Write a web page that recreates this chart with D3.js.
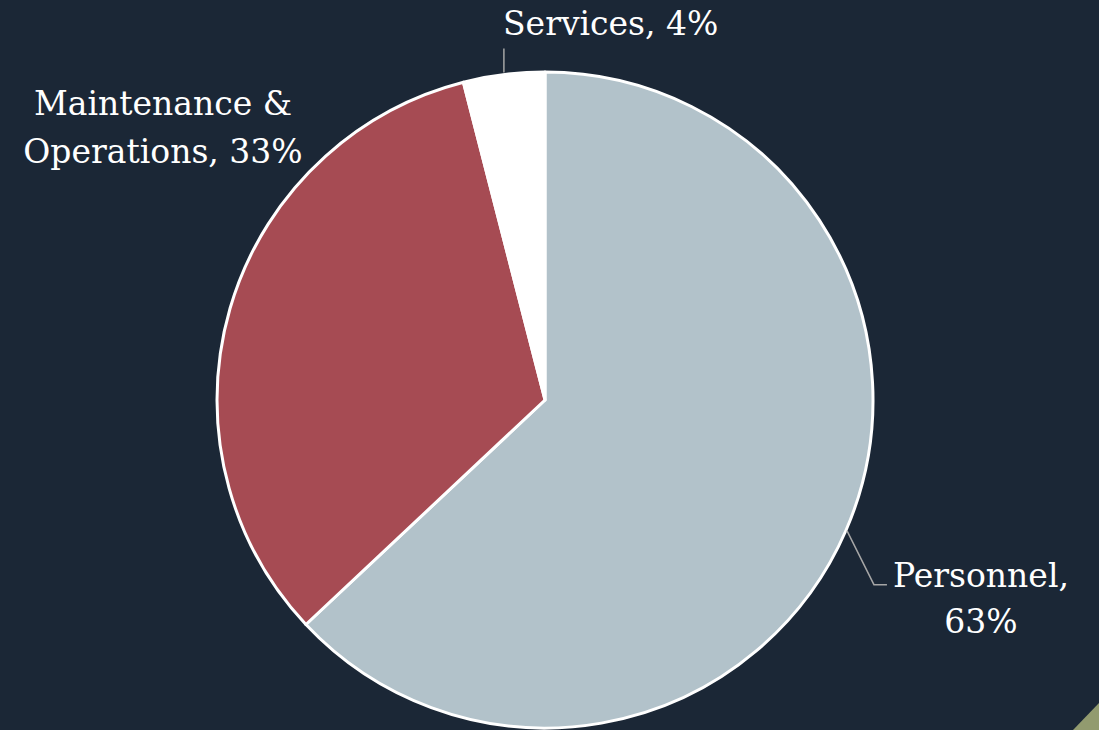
<!DOCTYPE html>
<html>
<head>
<meta charset="utf-8">
<script src="https://cdn.jsdelivr.net/npm/d3@7"></script>
<style>
  html, body { margin: 0; padding: 0; background: #1b2736; }
  svg { display: block; }
  .lbl { font-family: "DejaVu Serif", serif; font-size: 33px; fill: #ffffff; }
</style>
</head>
<body>
<svg id="chart" width="1099" height="730"></svg>
<script>
// slice order follows the picture: clockwise from 12 o'clock
const categories = ['Personnel', 'Maintenance & Operations', 'Services']
const values = [63, 33, 4]
const colors = ['#b2c2ca', '#a64b53', '#ffffff']

const width = 1099, height = 730
const cx = 545, cy = 400, radius = 328

let svg = d3.select('#chart')
svg.append('rect').attr('width', width).attr('height', height).attr('fill', '#1b2736')

// corner decoration
svg.append('path')
  .attr('d', 'M1073,730 L1099,703 L1099,730 Z')
  .attr('fill', '#929b6f')

let pie = d3.pie().sort(null).value(d => d)
let arc = d3.arc().innerRadius(0).outerRadius(radius)
let arcs = pie(values)

let g = svg.append('g').attr('transform', `translate(${cx},${cy})`)

g.selectAll('path')
  .data(arcs)
  .enter().append('path')
    .attr('d', arc)
    .attr('fill', (d, i) => colors[i])
    .attr('stroke', '#ffffff')
    .attr('stroke-width', 3)
    .attr('stroke-linejoin', 'round')

// point on the rim at a given angle (d3 angle, 0 = top)
function rim(a, r) {
  return [Math.sin(a) * r, -Math.cos(a) * r]
}
let mid = d => (d.startAngle + d.endAngle) / 2

// leader lines
let lead = g.append('g').attr('fill', 'none').attr('stroke', '#a6a6a6').attr('stroke-width', 1.5)

// Personnel: from rim down-right then short horizontal
let pP = rim(mid(arcs[0]), radius + 1)
lead.append('polyline')
  .attr('points', [pP, [pP[0] + 27, pP[1] + 54], [pP[0] + 40, pP[1] + 54]].map(p => p.join(',')).join(' '))

// Services: short vertical
let pS = rim(mid(arcs[2]), radius)
lead.append('line')
  .attr('x1', pS[0]).attr('y1', pS[1] - 2)
  .attr('x2', pS[0]).attr('y2', pS[1] - 26)

// labels
let labels = svg.append('g')

labels.append('text').attr('class', 'lbl')
  .attr('x', 503).attr('y', 35)
  .text(`${categories[2]}, ${values[2]}%`)

let tM = labels.append('text').attr('class', 'lbl').attr('text-anchor', 'middle')
tM.append('tspan').attr('x', 163).attr('y', 115).text('Maintenance &')
tM.append('tspan').attr('x', 163).attr('y', 163).text(`Operations, ${values[1]}%`)

let tP = labels.append('text').attr('class', 'lbl').attr('text-anchor', 'middle')
tP.append('tspan').attr('x', 981).attr('y', 587).text(`${categories[0]},`)
tP.append('tspan').attr('x', 981).attr('y', 633).text(`${values[0]}%`)
</script>
</body>
</html>
